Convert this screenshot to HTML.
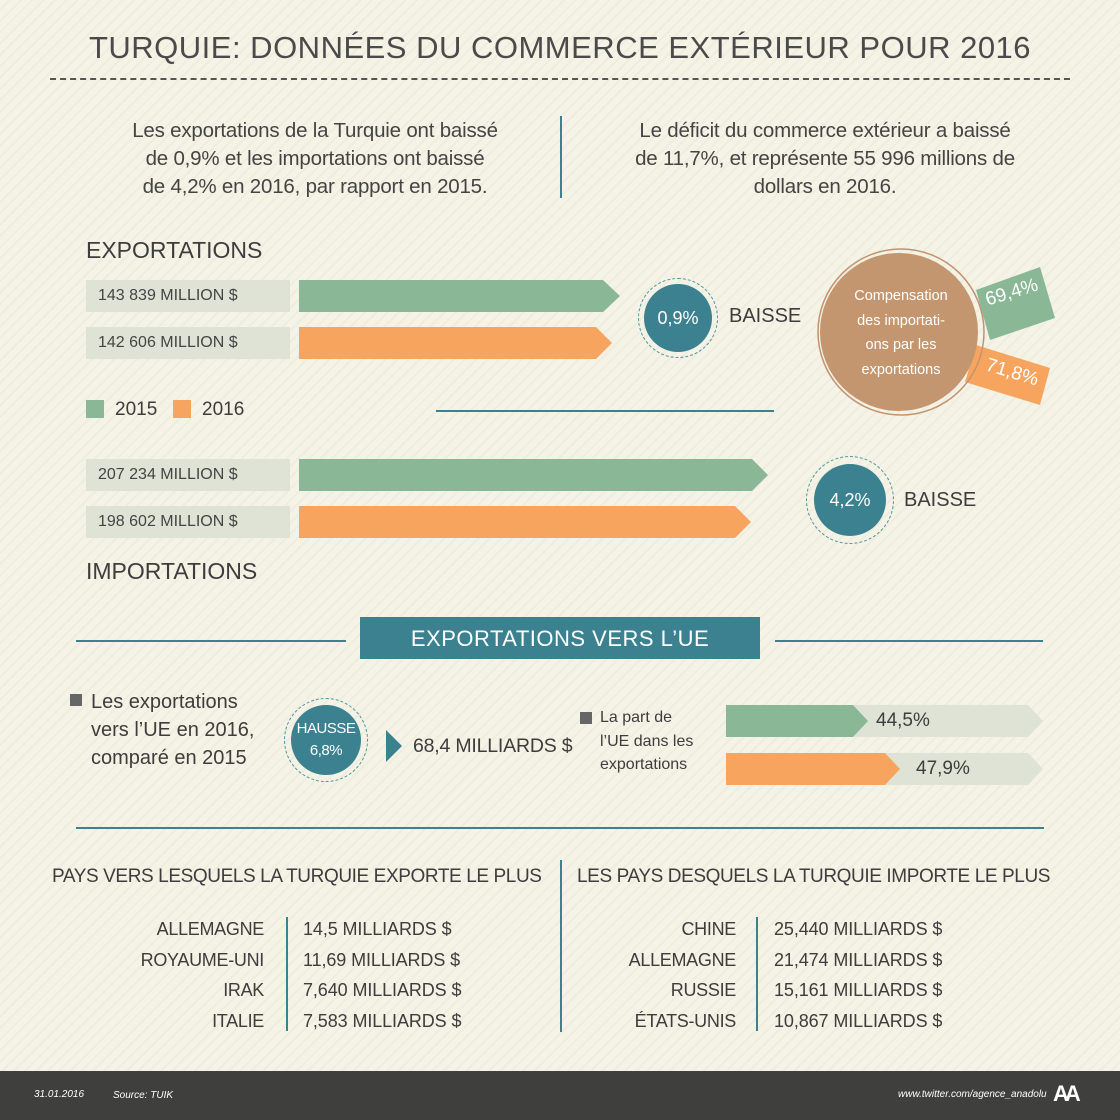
<!DOCTYPE html>
<html><head><meta charset="utf-8"><style>
*{margin:0;padding:0;box-sizing:border-box}
body{width:1120px;height:1120px;position:relative;overflow:hidden;font-family:"Liberation Sans",sans-serif;color:#3d3d3d;
background:repeating-linear-gradient(135deg,#f4f3e6 0 6px,#eeeddf 6px 8px)}
.a{position:absolute}
.t{white-space:nowrap}
.lab{position:absolute;left:86px;width:204px;height:32px;background:#dfe3d5;font-size:16px;line-height:32px;padding-left:12px;color:#444}
.circ{position:absolute;border-radius:50%;background:#3b8190;color:#fff;text-align:center}
.ring{position:absolute;border-radius:50%;border:1.5px dashed #4f949f}
.hl{position:absolute;height:1.5px;background:#3b8190}
</style></head><body>
<div class="a t" style="left:0;width:1120px;top:30px;text-align:center;font-size:31px;letter-spacing:0.5px;color:#4a4a4a">TURQUIE: DONNÉES DU COMMERCE EXTÉRIEUR POUR 2016</div>
<div class="a" style="left:50px;width:1020px;top:78px;border-top:2px dashed #555"></div>
<div class="a t" style="left:90px;width:450px;top:117px;text-align:center;font-size:20.5px;line-height:28px;color:#444;letter-spacing:-0.2px">Les exportations de la Turquie ont baissé<br>de 0,9% et les importations ont baissé<br>de 4,2% en 2016, par rapport en 2015.</div>
<div class="a" style="left:560px;top:116px;width:1.5px;height:82px;background:#3b8190"></div>
<div class="a t" style="left:600px;width:450px;top:117px;text-align:center;font-size:20.5px;line-height:28px;color:#444;letter-spacing:-0.2px">Le déficit du commerce extérieur a baissé<br>de 11,7%, et représente 55 996 millions de<br>dollars en 2016.</div>

<div class="a t" style="left:86px;top:237px;font-size:23px">EXPORTATIONS</div>
<div class="lab" style="top:280px">143 839 MILLION $</div>
<div class="lab" style="top:327px">142 606 MILLION $</div>
<svg class="a" style="left:0;top:0" width="1120" height="1120">
<polygon points="299,280 603,280 620,296 603,312 299,312" fill="#8ab896"/>
<polygon points="299,327 596,327 612,343 596,359 299,359" fill="#f7a55e"/>
<polygon points="299,459 752,459 768,475 752,491 299,491" fill="#8ab896"/>
<polygon points="299,506 735,506 751,522 735,538 299,538" fill="#f7a55e"/>
<polygon points="976,290 1040,267 1055,318 990,340" fill="#8ab896"/>
<polygon points="976,345 1050,368 1040,405 965,382" fill="#f7a55e"/>
<circle cx="901" cy="332" r="83" fill="none" stroke="#c4926f" stroke-width="1.5"/>
<circle cx="899" cy="332" r="79" fill="#c4966f"/>
<polygon points="726,705 1028,705 1043,721 1028,737 726,737" fill="#dfe3d5"/>
<polygon points="726,705 853,705 868,721 853,737 726,737" fill="#8ab896"/>
<polygon points="726,753 1028,753 1043,769 1028,785 726,785" fill="#dfe3d5"/>
<polygon points="726,753 885,753 900,769 885,785 726,785" fill="#f7a55e"/>
<polygon points="386,730 402,746 386,762" fill="#3b8190"/>
</svg>
<div class="a t" style="left:985px;top:282px;font-size:19px;color:#fff;transform:rotate(-17deg)">69,4%</div>
<div class="a t" style="left:985px;top:362px;font-size:19px;color:#fff;transform:rotate(17deg)">71,8%</div>
<div class="a t" style="left:826px;width:150px;top:284px;text-align:center;color:#fff;font-size:14.5px;line-height:24.5px">Compensation<br>des importati-<br>ons par les<br>exportations</div>

<div class="ring" style="left:638px;top:278px;width:80px;height:80px"></div>
<div class="circ" style="left:644px;top:284px;width:68px;height:68px;line-height:68px;font-size:18px">0,9%</div>
<div class="a t" style="left:729px;top:305px;font-size:20px">BAISSE</div>

<div class="a" style="left:86px;top:400px;width:18px;height:18px;background:#8ab896"></div>
<div class="a t" style="left:115px;top:399px;font-size:19px">2015</div>
<div class="a" style="left:173px;top:400px;width:18px;height:18px;background:#f7a55e"></div>
<div class="a t" style="left:202px;top:399px;font-size:19px">2016</div>
<div class="hl" style="left:436px;width:338px;top:410px"></div>

<div class="lab" style="top:459px">207 234 MILLION $</div>
<div class="lab" style="top:506px">198 602 MILLION $</div>
<div class="ring" style="left:806px;top:456px;width:88px;height:88px"></div>
<div class="circ" style="left:814px;top:464px;width:72px;height:72px;line-height:72px;font-size:18px">4,2%</div>
<div class="a t" style="left:904px;top:489px;font-size:20px">BAISSE</div>
<div class="a t" style="left:86px;top:558px;font-size:23px">IMPORTATIONS</div>

<div class="hl" style="left:76px;width:270px;top:640px"></div>
<div class="hl" style="left:775px;width:268px;top:640px"></div>
<div class="a t" style="left:360px;top:617px;width:400px;height:42px;background:#3b8190;color:#fff;font-size:22px;line-height:44px;text-align:center;letter-spacing:0.5px">EXPORTATIONS VERS L’UE</div>

<div class="a" style="left:70px;top:694px;width:12px;height:12px;background:#666"></div>
<div class="a t" style="left:91px;top:688px;font-size:20px;line-height:28px">Les exportations<br>vers l’UE en 2016,<br>comparé en 2015</div>
<div class="ring" style="left:284px;top:698px;width:84px;height:84px"></div>
<div class="circ t" style="left:291px;top:705px;width:70px;height:70px;font-size:15px;line-height:22px;padding-top:13px;letter-spacing:-0.5px">HAUSSE<br>6,8%</div>
<div class="a t" style="left:413px;top:735px;font-size:19.5px;letter-spacing:-0.2px">68,4 MILLIARDS $</div>
<div class="a" style="left:580px;top:712px;width:12px;height:12px;background:#666"></div>
<div class="a t" style="left:600px;top:706px;font-size:16px;line-height:23.5px">La part de<br>l’UE dans les<br>exportations</div>
<div class="a t" style="left:876px;top:710px;font-size:19px">44,5%</div>
<div class="a t" style="left:916px;top:758px;font-size:19px">47,9%</div>

<div class="hl" style="left:76px;width:968px;top:827px"></div>
<div class="a t" style="left:52px;top:866px;font-size:19px;letter-spacing:-0.4px">PAYS VERS LESQUELS LA TURQUIE EXPORTE LE PLUS</div>
<div class="a t" style="left:577px;top:866px;font-size:19px;letter-spacing:-0.4px">LES PAYS DESQUELS LA TURQUIE IMPORTE LE PLUS</div>
<div class="a" style="left:560px;top:860px;width:1.5px;height:172px;background:#3b8190"></div>
<div class="a" style="left:286px;top:917px;width:1.5px;height:114px;background:#3b8190"></div>
<div class="a" style="left:756px;top:917px;width:1.5px;height:114px;background:#3b8190"></div>
<div class="a t" style="left:60px;width:204px;top:914px;text-align:right;font-size:18px;line-height:30.7px;letter-spacing:-0.3px">ALLEMAGNE<br>ROYAUME-UNI<br>IRAK<br>ITALIE</div>
<div class="a t" style="left:303px;top:914px;font-size:18px;line-height:30.7px;letter-spacing:-0.1px">14,5 MILLIARDS $<br>11,69 MILLIARDS $<br>7,640 MILLIARDS $<br>7,583 MILLIARDS $</div>
<div class="a t" style="left:530px;width:206px;top:914px;text-align:right;font-size:18px;line-height:30.7px;letter-spacing:-0.3px">CHINE<br>ALLEMAGNE<br>RUSSIE<br>ÉTATS-UNIS</div>
<div class="a t" style="left:774px;top:914px;font-size:18px;line-height:30.7px;letter-spacing:-0.1px">25,440 MILLIARDS $<br>21,474 MILLIARDS $<br>15,161 MILLIARDS $<br>10,867 MILLIARDS $</div>

<div class="a" style="left:0;top:1071px;width:1120px;height:49px;background:#3f3f3d"></div>
<div class="a t" style="left:34px;top:1089px;font-size:10px;color:#fff;font-style:italic">31.01.2016</div>
<div class="a t" style="left:113px;top:1090px;font-size:10px;color:#fff;font-style:italic">Source: TUIK</div>
<div class="a t" style="left:898px;top:1089px;font-size:10px;color:#fff;font-style:italic">www.twitter.com/agence_anadolu</div>
<div class="a t" style="left:1053px;top:1081px;font-size:22px;font-weight:bold;color:#fff;letter-spacing:-4px">AA</div>
</body></html>
